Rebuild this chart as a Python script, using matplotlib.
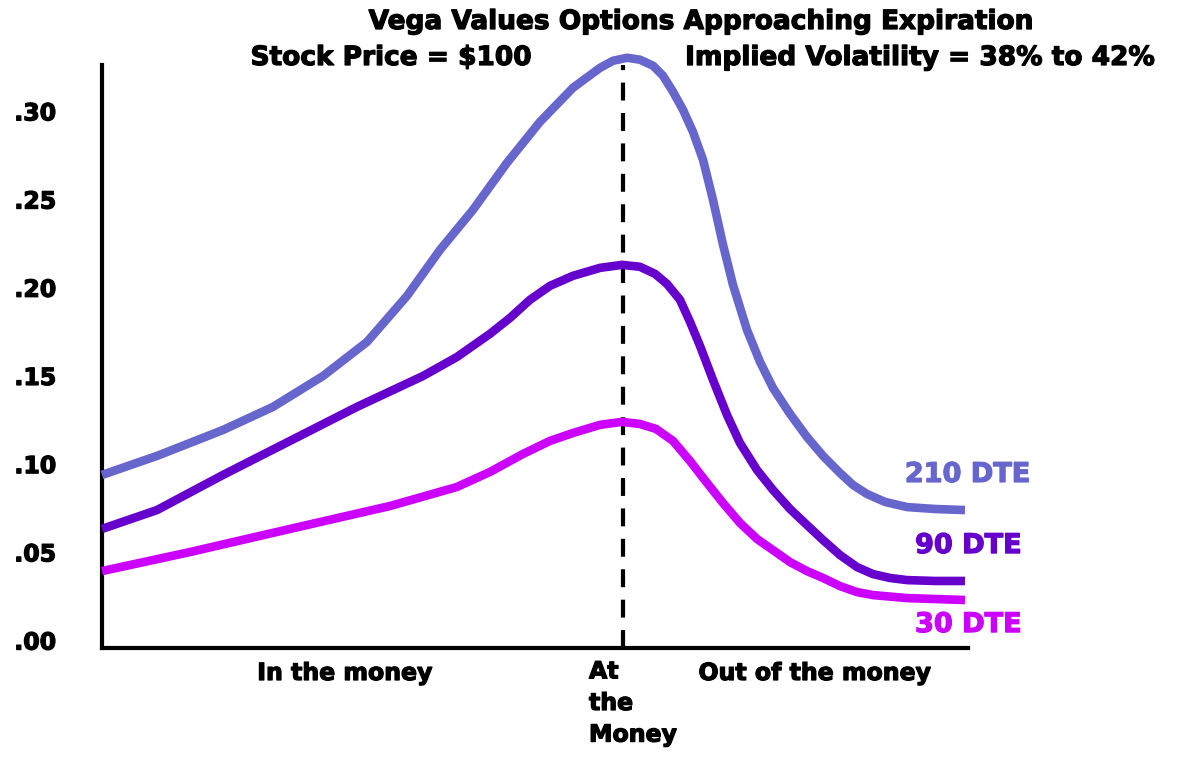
import matplotlib
matplotlib.use("Agg")
import matplotlib.pyplot as plt
import matplotlib.patheffects as pe

# ---- data ----
x_210 = [0, 6.35, 13.97, 19.75, 25.52, 30.60, 35.22, 39.03, 42.84, 46.77, 50.58, 54.39, 57.51,
         59.01, 60.62, 62.12, 63.63, 64.78, 65.94, 67.09, 68.24, 69.40, 70.55, 71.71, 72.86,
         74.48, 75.98, 77.48, 79.45, 81.41, 83.26, 85.22, 86.72, 88.34, 90.42, 92.96, 96.19,
         99.65]
v_210 = [0.0936, 0.1044, 0.1191, 0.1322, 0.1497, 0.1690, 0.1951, 0.2212, 0.2439, 0.2706,
         0.2938, 0.3131, 0.3244, 0.3284, 0.3301, 0.3290, 0.3256, 0.3199, 0.3108, 0.3006,
         0.2881, 0.2723, 0.2496, 0.2241, 0.2014, 0.1758, 0.1577, 0.1429, 0.1282, 0.1151,
         0.1044, 0.0947, 0.0879, 0.0828, 0.0783, 0.0754, 0.0743, 0.0737]

x_90 = [0, 6.35, 13.97, 21.71, 29.45, 37.07, 40.99, 44.80, 47.11, 49.42, 51.73, 54.39, 57.51,
        60.05, 62.12, 63.86, 65.24, 66.74, 67.90, 69.05, 70.55, 72.17, 73.67, 75.64, 77.48,
        79.45, 81.41, 83.26, 85.22, 87.18, 89.03, 90.99, 92.96, 96.19, 99.65]
v_90 = [0.0630, 0.0737, 0.0936, 0.1129, 0.1322, 0.1497, 0.1605, 0.1736, 0.1826, 0.1929,
        0.2008, 0.2065, 0.2110, 0.2127, 0.2116, 0.2076, 0.2019, 0.1929, 0.1804, 0.1668,
        0.1475, 0.1276, 0.1117, 0.0964, 0.0851, 0.0743, 0.0652, 0.0567, 0.0482, 0.0414,
        0.0374, 0.0352, 0.0340, 0.0335, 0.0335]

x_30 = [0, 10.16, 21.71, 33.26, 40.99, 44.80, 48.61, 51.73, 54.39, 57.51, 60.05, 62.12, 63.97,
        65.94, 67.90, 69.86, 71.71, 73.67, 75.64, 77.48, 79.45, 81.41, 83.26, 85.22, 87.18,
        89.03, 92.96, 99.65]
v_30 = [0.0391, 0.0499, 0.0630, 0.0760, 0.0868, 0.0953, 0.1055, 0.1129, 0.1174, 0.1220,
        0.1237, 0.1225, 0.1197, 0.1129, 0.1015, 0.0891, 0.0777, 0.0664, 0.0573, 0.0510,
        0.0442, 0.0391, 0.0352, 0.0306, 0.0272, 0.0255, 0.0238, 0.0227]

atm_x = 60.2
y_ticks = [0.00, 0.05, 0.10, 0.15, 0.20, 0.25, 0.30]
y_tick_labels = [".00", ".05", ".10", ".15", ".20", ".25", ".30"]
series_labels = ["210 DTE", "90 DTE", "30 DTE"]
label_x = [107.2, 106.2, 106.2]
label_y = [0.0936, 0.0533, 0.0085]
colors = ["#6666cc", "#6600cc", "#cc00ff"]

title = "Vega Values Options Approaching Expiration"
sub_left = "Stock Price = $100"
sub_right = "Implied Volatility = 38% to 42%"
x_labels = ["In the money", "Out of the money"]
atm_label = "At\nthe\nMoney"

plt.rcParams['font.family'] = ['DejaVu Sans']
plt.rcParams['font.weight'] = 'bold'


def heavy(color='black', w=0.9):
    return [pe.withStroke(linewidth=w, foreground=color)]


fig = plt.figure(figsize=(12, 7.62), dpi=100)
ax = fig.add_axes([102/1200, 1 - 648/762, 866/1200, (648 - 65)/762])

for xs, vs, c in zip([x_210, x_90, x_30], [v_210, v_90, v_30], colors):
    ax.plot(xs, vs, color=c, lw=6.2, solid_joinstyle='round', solid_capstyle='butt',
            clip_on=False, zorder=3)

ax.axvline(atm_x, color='black', lw=3.0, dashes=(4.3, 3.0), zorder=2)

ax.set_xlim(0, 100)
ax.set_ylim(-0.0045, 0.326)

for s in ['top', 'right']:
    ax.spines[s].set_visible(False)
for s in ['left', 'bottom']:
    ax.spines[s].set_linewidth(3)
    ax.spines[s].set_color('black')

ax.set_yticks(y_ticks)
ax.set_yticklabels(y_tick_labels, fontsize=17, fontweight='bold')
for t in ax.get_yticklabels():
    t.set_path_effects(heavy())
ax.tick_params(axis='y', length=0, pad=33)
ax.set_xticks([])

for lab, lx, ly, c in zip(series_labels, label_x, label_y, colors):
    ax.text(lx, ly, lab, color=c, fontsize=19.5, fontweight='bold', ha='right', va='center',
            clip_on=False, path_effects=heavy(c))

fig.text(345/1200, 1 - 673/762, x_labels[0], fontsize=17, fontweight='bold', ha='center',
         va='center', path_effects=heavy())
fig.text(815/1200, 1 - 673/762, x_labels[1], fontsize=17, fontweight='bold', ha='center',
         va='center', path_effects=heavy())
fig.text(589/1200, 1 - 703/762, atm_label, fontsize=17, fontweight='bold', ha='left',
         va='center', linespacing=1.4, path_effects=heavy())

fig.text(701/1200, 1 - 22/762, title, fontsize=19, fontweight='bold', ha='center',
         va='center', path_effects=heavy())
fig.text(391/1200, 1 - 58/762, sub_left, fontsize=19, fontweight='bold', ha='center',
         va='center', path_effects=heavy())
fig.text(920/1200, 1 - 58/762, sub_right, fontsize=19, fontweight='bold', ha='center',
         va='center', path_effects=heavy())

fig.savefig("out.png", dpi=100, facecolor='white')
